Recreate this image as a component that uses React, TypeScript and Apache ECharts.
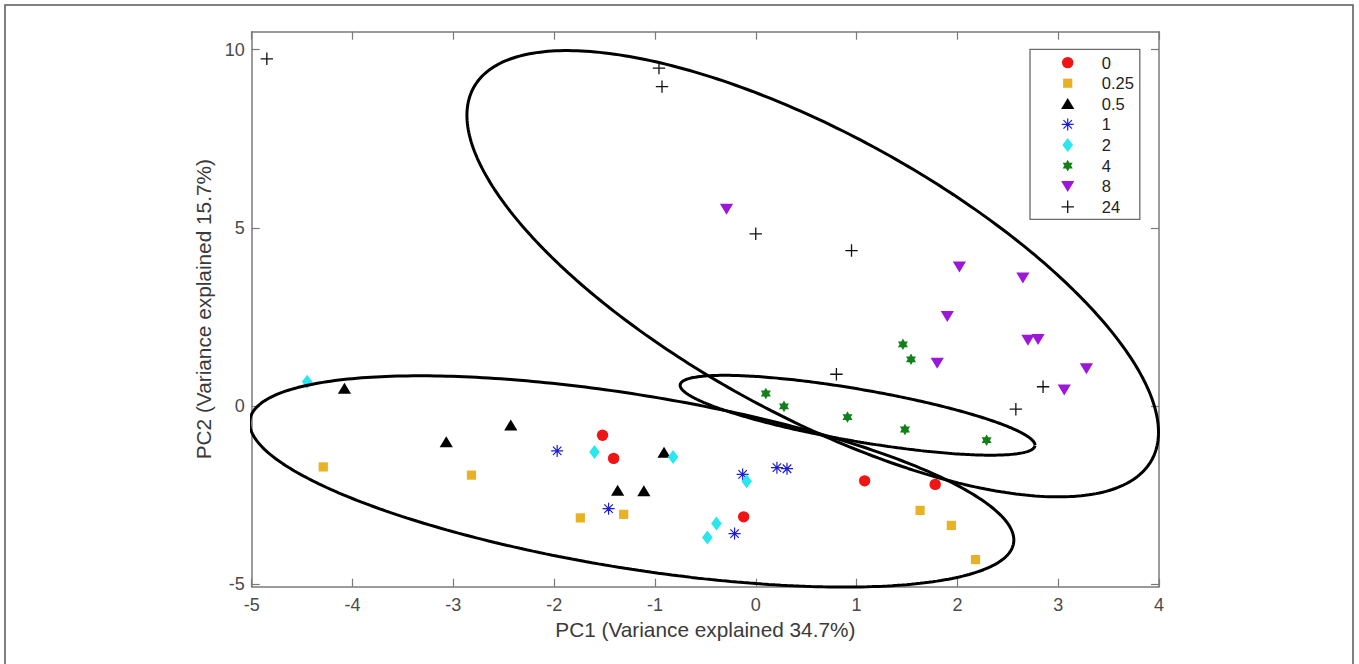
import React, { useEffect, useRef } from "react";
import * as echarts from "echarts";

// ---------- data ----------
const groupNames = ["0", "0.25", "0.5", "1", "2", "4", "8", "24"];
const groupColors = ["#f01414", "#e9b224", "#000000", "#1c1cd2", "#2ae6ee", "#13801a", "#9c18d8", "#111111"];
const groupShapes = ["circle", "square", "triUp", "asterisk", "diamond", "hexagram", "triDown", "plus"];

const x0 = [-1.52, -1.41, -0.12, 1.08, 1.78];
const y0 = [-0.82, -1.47, -3.11, -2.10, -2.20];

const x025 = [-4.29, -2.82, -1.74, -1.31, 1.63, 1.94, 2.18];
const y025 = [-1.71, -1.94, -3.14, -3.04, -2.93, -3.35, -4.31];

const x05 = [-4.08, -3.07, -2.43, -1.37, -1.11, -0.91];
const y05 = [0.49, -1.01, -0.54, -2.37, -2.39, -1.31];

const x1 = [-1.97, -1.46, -0.13, 0.21, 0.31, -0.21];
const y1 = [-1.26, -2.88, -1.92, -1.73, -1.76, -3.58];

const x2 = [-4.45, -1.60, -0.82, -0.09, -0.39, -0.48];
const y2 = [0.68, -1.29, -1.43, -2.11, -3.30, -3.69];

const x4 = [1.46, 1.54, 0.10, 0.28, 0.91, 1.48, 2.29];
const y4 = [1.73, 1.31, 0.35, -0.01, -0.31, -0.66, -0.96];

const x8 = [-0.29, 2.02, 2.65, 1.90, 2.70, 2.80, 1.80, 3.28, 3.06];
const y8 = [5.53, 3.91, 3.60, 2.52, 1.85, 1.87, 1.21, 1.05, 0.46];

const x24 = [-4.85, -0.96, -0.93, 0.0, 0.95, 0.80, 2.85, 2.58];
const y24 = [9.74, 9.48, 8.96, 4.83, 4.36, 0.89, 0.54, -0.09];

const groupX = [x0, x025, x05, x1, x2, x4, x8, x24];
const groupY = [y0, y025, y05, y1, y2, y4, y8, y24];

// confidence ellipses: centre, half-extent along x / y, correlation
const ellipseCx = [-1.23, 0.565, 1.01];
const ellipseCy = [-2.117, 3.71, -0.26];
const ellipseRx = [3.79, 3.43, 1.76];
const ellipseRy = [2.963, 6.26, 1.12];
const ellipseRho = [-0.555, -0.71, -0.75];

const xTicks = [-5, -4, -3, -2, -1, 0, 1, 2, 3, 4];
const yTicks = [-5, 0, 5, 10];

const xTitle = "PC1 (Variance explained 34.7%)";
const yTitle = "PC2 (Variance explained 15.7%)";

// ---------- symbol paths ----------
const f = (n: number) => n.toFixed(3);

function bar(cx: number, cy: number, ang: number, L: number, t: number) {
  const dx = Math.cos(ang), dy = Math.sin(ang);
  const nx = -dy, ny = dx;
  const p = [
    [cx + L * dx + t * nx, cy + L * dy + t * ny],
    [cx - L * dx + t * nx, cy - L * dy + t * ny],
    [cx - L * dx - t * nx, cy - L * dy - t * ny],
    [cx + L * dx - t * nx, cy + L * dy - t * ny],
  ];
  return "M" + p.map((q) => f(q[0]) + "," + f(q[1])).join("L") + "Z";
}

function shapePath(shape: string, cx: number, cy: number) {
  switch (shape) {
    case "circle": {
      const r = 5.7;
      return `M${f(cx - r)},${f(cy)}A${r},${r},0,1,0,${f(cx + r)},${f(cy)}A${r},${r},0,1,0,${f(cx - r)},${f(cy)}Z`;
    }
    case "square": {
      const h = 4.6;
      return `M${f(cx - h)},${f(cy - h)}L${f(cx + h)},${f(cy - h)}L${f(cx + h)},${f(cy + h)}L${f(cx - h)},${f(cy + h)}Z`;
    }
    case "triUp":
      return `M${f(cx)},${f(cy - 5.8)}L${f(cx + 6.6)},${f(cy + 5.2)}L${f(cx - 6.6)},${f(cy + 5.2)}Z`;
    case "triDown":
      return `M${f(cx - 6.6)},${f(cy - 5.2)}L${f(cx + 6.6)},${f(cy - 5.2)}L${f(cx)},${f(cy + 5.8)}Z`;
    case "diamond":
      return `M${f(cx)},${f(cy - 7)}L${f(cx + 5.3)},${f(cy)}L${f(cx)},${f(cy + 7)}L${f(cx - 5.3)},${f(cy)}Z`;
    case "hexagram": {
      const R = 5.8, r = R / Math.sqrt(3);
      const pts: string[] = [];
      for (let k = 0; k < 12; k++) {
        const a = (-90 + 30 * k) * Math.PI / 180;
        const rr = k % 2 === 0 ? R : r;
        pts.push(f(cx + rr * Math.cos(a)) + "," + f(cy + rr * Math.sin(a)));
      }
      return "M" + pts.join("L") + "Z";
    }
    case "asterisk":
      return [0, 45, 90, 135].map((d) => bar(cx, cy, d * Math.PI / 180, 6, 0.6)).join("");
    case "plus":
      return [0, 90].map((d) => bar(cx, cy, d * Math.PI / 180, 6.2, 0.65)).join("");
  }
  return "";
}

// frame corners fix the bounding box, so the symbol keeps its own size
function symbolIn(shape: string, W: number, H: number) {
  return `path://M0,0M${W},${H}` + shapePath(shape, W / 2, H / 2);
}

function ellipsePoints(i: number) {
  const pts: number[][] = [];
  const s = Math.sqrt(1 - ellipseRho[i] * ellipseRho[i]);
  const N = 360;
  for (let k = 0; k <= N; k++) {
    const t = (2 * Math.PI * k) / N;
    pts.push([
      ellipseCx[i] + ellipseRx[i] * Math.cos(t),
      ellipseCy[i] + ellipseRy[i] * (ellipseRho[i] * Math.cos(t) + s * Math.sin(t)),
    ]);
  }
  return pts;
}

const FONT = "'Liberation Sans', Arial, Helvetica, sans-serif";
const AXIS_COLOR = "#7a7a7a";
const LABEL_COLOR = "#4a4a4a";
const SYM = 16;
const LEG_W = 58;

export default function App() {
  const ref = useRef<HTMLDivElement>(null);

  useEffect(() => {
    document.body.style.margin = "0";
    if (!ref.current) return;
    const chart = echarts.init(ref.current, undefined, { renderer: "svg" });

    const axisLine = { show: true, onZero: false, lineStyle: { color: AXIS_COLOR, width: 1.5 } };
    const tick = { show: true, inside: true, length: 8, lineStyle: { color: AXIS_COLOR, width: 1.2 } };

    const scatterSeries = groupNames.map((name, gi) => ({
      name,
      type: "scatter",
      symbol: symbolIn(groupShapes[gi], SYM, SYM),
      symbolSize: SYM,
      itemStyle: { color: groupColors[gi], opacity: 1 },
      data: groupX[gi].map((x, j) => [x, groupY[gi][j]]),
      z: 3,
      silent: true,
    }));

    const ellipseSeries = ellipseCx.map((_, i) => ({
      name: "ellipse" + i,
      type: "line",
      data: ellipsePoints(i),
      showSymbol: false,
      symbol: "none",
      smooth: false,
      clip: false,
      silent: true,
      lineStyle: { color: "#000000", width: 3 },
      z: 4,
    }));

    chart.setOption({
      animation: false,
      backgroundColor: "#ffffff",
      textStyle: { fontFamily: FONT },
      grid: { left: 251.7, right: 200, top: 31.7, bottom: 77.3, outerBoundsMode: "none", containLabel: false },
      graphic: [
        {
          type: "rect",
          shape: { x: 5, y: 5, width: 1348, height: 700 },
          style: { fill: "none", stroke: "#555555", lineWidth: 1.5 },
          silent: true,
        },
      ],
      legend: {
        left: 1030,
        top: 49.3,
        orient: "vertical",
        itemWidth: LEG_W,
        itemHeight: SYM,
        itemGap: 3.6,
        padding: [4.8, 6, 4, 8.7],
        borderColor: "#6b6b6b",
        borderWidth: 1.3,
        backgroundColor: "#ffffff",
        selectedMode: false,
        textStyle: { fontSize: 16.5, color: "#222222", fontFamily: FONT, lineHeight: 16 },
        data: groupNames.map((name, gi) => ({
          name,
          icon: symbolIn(groupShapes[gi], LEG_W, SYM),
          itemStyle: { color: groupColors[gi], borderWidth: 0 },
        })),
      },
      xAxis: [
        {
          type: "value",
          position: "bottom",
          min: xTicks[0],
          max: xTicks[xTicks.length - 1],
          interval: 1,
          axisLine,
          axisTick: tick,
          splitLine: { show: false },
          axisLabel: { fontSize: 18, color: LABEL_COLOR, margin: 9, fontFamily: FONT },
          name: xTitle,
          nameLocation: "middle",
          nameGap: 31,
          nameTextStyle: { fontSize: 20.8, color: "#3a3a3a", fontFamily: FONT },
        },
        {
          type: "value",
          position: "top",
          min: xTicks[0],
          max: xTicks[xTicks.length - 1],
          interval: 1,
          axisLine,
          axisTick: tick,
          splitLine: { show: false },
          axisLabel: { show: false },
        },
      ],
      yAxis: [
        {
          type: "value",
          position: "left",
          min: -5.07,
          max: 10.5,
          axisLine,
          axisTick: { ...tick, customValues: yTicks },
          splitLine: { show: false },
          axisLabel: { fontSize: 18, color: LABEL_COLOR, margin: 7, fontFamily: FONT, customValues: yTicks },
          name: yTitle,
          nameLocation: "middle",
          nameGap: 36,
          nameTextStyle: { fontSize: 20.8, color: "#3a3a3a", fontFamily: FONT },
        },
        {
          type: "value",
          position: "right",
          min: -5.07,
          max: 10.5,
          axisLine,
          axisTick: { ...tick, customValues: yTicks },
          splitLine: { show: false },
          axisLabel: { show: false, customValues: yTicks },
        },
      ],
      series: [...scatterSeries, ...ellipseSeries],
    });

    return () => chart.dispose();
  }, []);

  return <div ref={ref} style={{ width: 1359, height: 664 }} />;
}
